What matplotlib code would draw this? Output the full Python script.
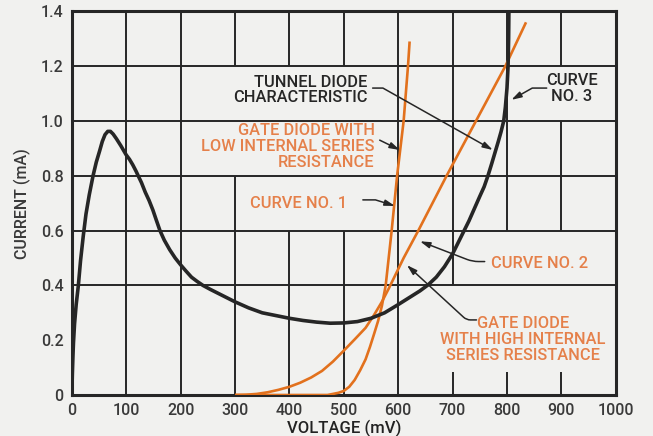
import matplotlib
matplotlib.use("Agg")
import matplotlib.pyplot as plt

# tunnel diode characteristic (black curve, "curve no. 3")
tunnel_mv = [0, 1, 2, 3, 5, 8, 12, 16, 21, 26, 32, 39, 45, 51, 56, 61, 66, 71, 76, 82, 90,
             100, 106, 112, 118, 122, 128, 135, 142, 149, 155, 162, 170, 180, 190, 200,
             210, 220, 230, 241, 255, 270, 285, 300, 325, 350, 375, 400, 425, 450, 475,
             500, 525, 550, 575, 600, 620, 640, 655, 670, 685, 700, 710, 720, 730, 740,
             750, 758, 765, 772, 778, 784, 789, 794, 797, 800, 802, 803, 803.5]
tunnel_ma = [0, 0.08, 0.14, 0.19, 0.26, 0.33, 0.40, 0.49, 0.58, 0.66, 0.73, 0.80, 0.85,
             0.89, 0.925, 0.95, 0.962, 0.962, 0.952, 0.935, 0.91, 0.876, 0.86, 0.84,
             0.817, 0.80, 0.775, 0.74, 0.71, 0.675, 0.64, 0.60, 0.565, 0.53, 0.50, 0.475,
             0.452, 0.43, 0.415, 0.40, 0.385, 0.37, 0.355, 0.34, 0.318, 0.30, 0.29, 0.28,
             0.272, 0.266, 0.262, 0.263, 0.268, 0.28, 0.30, 0.33, 0.355, 0.38, 0.402,
             0.43, 0.468, 0.515, 0.555, 0.595, 0.635, 0.68, 0.725, 0.76, 0.80, 0.845,
             0.885, 0.925, 0.96, 1.0, 1.05, 1.12, 1.2, 1.3, 1.4]

# gate diode, low internal series resistance ("curve no. 1")
low_r_mv = [300, 400, 470, 480, 490, 500, 510, 520, 530, 540, 548, 556, 563, 570, 577,
            582.5, 588, 593, 598, 604, 610, 614, 618, 621]
low_r_ma = [0, 0, 0, 0.004, 0.008, 0.015, 0.03, 0.055, 0.09, 0.13, 0.175, 0.225, 0.27,
            0.325, 0.40, 0.50, 0.60, 0.70, 0.80, 0.90, 1.0, 1.1, 1.2, 1.29]

# gate diode, high internal series resistance ("curve no. 2")
high_r_mv = [300, 320, 340, 360, 380, 400, 420, 440, 460, 480, 500, 520, 540, 555, 570,
             583, 610, 637, 663, 689, 716, 743, 770, 797, 816, 835]
high_r_ma = [0, 0.001, 0.004, 0.01, 0.019, 0.03, 0.045, 0.064, 0.088, 0.122, 0.162, 0.203,
             0.245, 0.29, 0.34, 0.39, 0.50, 0.60, 0.70, 0.80, 0.90, 1.0, 1.1, 1.2, 1.28,
             1.36]

x_ticks = [0, 100, 200, 300, 400, 500, 600, 700, 800, 900, 1000]
y_ticks = [0, 0.2, 0.4, 0.6, 0.8, 1.0, 1.2, 1.4]
y_tick_labels = ["0", "0.2", "0.4", "0.6", "0.8", "1.0", "1.2", "1.4"]

BG = "#f1f1ef"
INK = "#262626"
ORANGE = "#e2711d"
ORANGE_TXT = "#e5804a"

plt.rcParams["font.family"] = ["Roboto", "DejaVu Sans"]

fig = plt.figure(figsize=(6.53, 4.36), dpi=100, facecolor=BG)
ax = fig.add_axes([0.110, 0.094, 0.833, 0.880], facecolor=BG)
ax.set_xlim(0, 1000)
ax.set_ylim(0, 1.4)

# grid: hand drawn style, some lines broken where the labels sit
for y in [0.4, 0.6, 0.8, 1.0, 1.2]:
    ax.axhline(y, color=INK, lw=1.4, zorder=1)
gaps = {300: [(0.8, 1.2)], 400: [(0.6, 1.2)], 500: [(0.6, 1.2)],
        700: [(0.085, 0.4)], 800: [(0.085, 0.6)], 900: [(0.085, 0.6), (1.0, 1.2)]}
for x in x_ticks[1:-1]:
    lo = 0
    for g0, g1 in gaps.get(x, []):
        ax.vlines(x, lo, g0, color=INK, lw=1.4, zorder=1)
        lo = g1
    ax.vlines(x, lo, 1.4, color=INK, lw=1.4, zorder=1)

for s in ax.spines.values():
    s.set_linewidth(2.2)
    s.set_color(INK)

ax.plot(high_r_mv, high_r_ma, color=ORANGE, lw=1.9, zorder=3, solid_capstyle="butt")
ax.plot(low_r_mv, low_r_ma, color=ORANGE, lw=1.9, zorder=3, solid_capstyle="butt")
ax.plot(tunnel_mv, tunnel_ma, color=INK, lw=2.6, zorder=4, solid_capstyle="butt",
        solid_joinstyle="round")

ax.set_xticks(x_ticks)
ax.set_yticks(y_ticks)
ax.set_yticklabels(y_tick_labels)
ax.tick_params(length=0, labelsize=11.5, labelcolor="#3a3a3a", pad=6)
for lab in ax.get_xticklabels() + ax.get_yticklabels():
    lab.set_fontweight("medium")
ax.set_xlabel("VOLTAGE (mV)", fontsize=12, fontweight="medium", color="#222222",
              labelpad=1)
ax.set_ylabel("CURRENT (mA)", fontsize=11.5, fontweight="medium", color="#3a3a3a",
              labelpad=7)

txt = dict(fontsize=11.8, fontweight="medium", linespacing=1.08, zorder=5)
ax.text(544, 1.113, "TUNNEL DIODE\nCHARACTERISTIC", ha="right", va="center",
        multialignment="right", color=INK, **txt)
ax.text(557, 0.906, "GATE DIODE WITH\nLOW INTERNAL SERIES\nRESISTANCE", ha="right",
        va="center", multialignment="right", color=ORANGE_TXT, **txt)
ax.text(507, 0.70, "CURVE NO. 1", ha="right", va="center", color=ORANGE_TXT, **txt)
ax.text(919, 1.12, "CURVE\nNO. 3", ha="center", va="center", color=INK, **txt)
ax.text(771, 0.48, "CURVE NO. 2", ha="left", va="center", color=ORANGE_TXT, **txt)
ax.text(829, 0.204, "GATE DIODE\nWITH HIGH INTERNAL\nSERIES RESISTANCE", ha="center",
        va="center", color=ORANGE_TXT, **txt)

arrow = dict(arrowstyle="-|>,head_length=0.6,head_width=0.18", color=INK, lw=1.1,
             shrinkA=0, shrinkB=0)


def pointer(start, end, angle_b=None, rad=0):
    props = dict(arrow)
    if angle_b is not None:
        props["connectionstyle"] = "angle,angleA=0,angleB=%g,rad=%g" % (angle_b, rad)
    ax.annotate("", xy=end, xytext=start, arrowprops=props, zorder=6)


pointer((553, 1.12), (774, 0.894), 150.6)
pointer((566, 0.93), (603, 0.894))
pointer((535, 0.712), (594, 0.69), 162.8)
pointer((873, 1.12), (808, 1.077), 29.4)
pointer((759, 0.487), (640, 0.561), -21.1, 6)
pointer((744, 0.274), (616, 0.474), -42.6, 4)

fig.savefig("out.png", dpi=100, facecolor=BG)
